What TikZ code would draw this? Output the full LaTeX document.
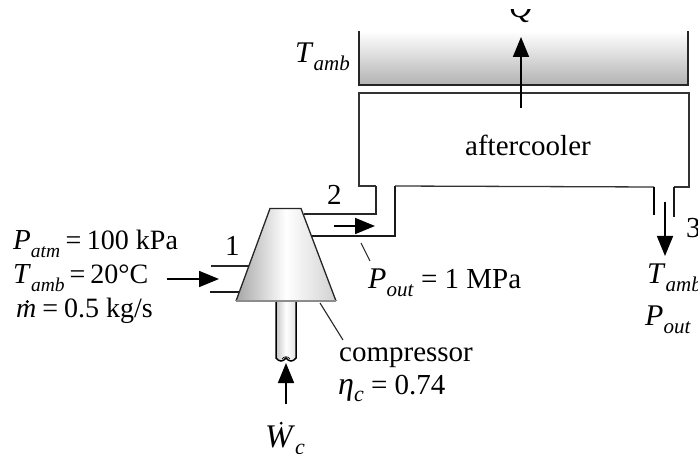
\documentclass[tikz,border=0pt]{standalone}
\usepackage{fontspec}
\setmainfont{Liberation Serif}
\usetikzlibrary{arrows.meta}
\newcommand{\vsym}[2]{{\fontsize{30}{30}\selectfont\textit{#1}}\raisebox{-8pt}{\fontsize{21}{21}\selectfont\textit{#2}}}
\newcommand{\lsym}[2]{{\fontsize{29}{29}\selectfont\textit{#1}}\raisebox{-8pt}{\fontsize{19.5}{19.5}\selectfont\textit{#2}}}
\newcommand{\dotsym}[1]{\tikz[baseline=0pt,x=1pt,y=1pt]{\node[inner sep=0pt,anchor=base west] (dd) at (0,0) {\textit{#1}};\fill (dd.north)++(1pt,2pt) circle (1.6pt);}}
\tikzset{
  txt/.style={anchor=base west,inner sep=0pt,font=\fontsize{29}{29}\selectfont},
  ltxt/.style={txt,font=\fontsize{28}{28}\selectfont},
  thinl/.style={line width=1.4pt,black!85},
  thickl/.style={line width=2.6pt,black!90},
  flow/.style={line width=1.7pt,-{Triangle[length=20pt,width=16pt]}},
  lead/.style={line width=1.1pt,black!85},
}
\begin{document}
\begin{tikzpicture}[x=1pt,y=-1pt]
\useasboundingbox (0,0) rectangle (698,454);
\begin{scope}
\clip (0,0) rectangle (698,454);
% ambient
\fill[top color=white,bottom color=black!30] (359,31) rectangle (688,85);
\draw[line width=1.5pt,black!85] (359,31) -- (359,85) -- (688,85) -- (688,31);
% aftercooler
\coordinate (c2a) at (376,186);
\coordinate (c2b) at (395,186);
\coordinate (c3a) at (654,187);
\coordinate (c3b) at (674,187);
\draw[line width=1.3pt,black!80] (c2a) -- (359,186) -- (359,93) -- (689,93) -- (689,187) -- (c3b);
\draw[line width=1.3pt,black!80] (c2b) -- (c3a);
% pipes
\coordinate (o1) at (304,214);
\coordinate (o2) at (312,236);
\draw[thinl] (o1) -- (376,214) -- (c2a);
\draw[thickl] (o2) -- (395,236) -- (c2b);
\draw[line width=1.7pt] (c3a) -- (654,215);
\draw[thickl] (c3b) -- (674,217);
% inlet
\coordinate (i1a) at (211,266);
\coordinate (i1b) at (250,266);
\coordinate (i2a) at (210,292);
\coordinate (i2b) at (240,292);
\draw[thinl] (i1a) -- (i1b);
\draw[thickl] (i2a) -- (i2b);
% shaft
\shade[left color=black!22,right color=black!12,middle color=white]
  (276,301) -- (276,358) .. controls (279,362) and (283,362) .. (286,358) .. controls (289,362) and (293,362) .. (296,358) -- (296,301) -- cycle;
\draw[line width=1.5pt] (276,301) -- (276,358) .. controls (279,362) and (283,362) .. (286,358) .. controls (289,362) and (293,362) .. (296,358) -- (296,301);
\draw[line width=0.7pt] (282,359) .. controls (284,356) and (288,356) .. (290,359);
% compressor
\path[left color=black!35,right color=black!18,middle color=white]
  (270,208.5) -- (301,208.5) -- (336,301) -- (236,301) -- cycle;
\draw[line width=1.3pt,black!85] (236,301) -- (270,208.5) -- (301,208.5) -- (336,301);
\draw[line width=1.1pt,black!45] (236,301) -- (336,301);
% arrows
\coordinate (a1s) at (167,279); \coordinate (a1e) at (219,279);
\draw[flow] (a1s) -- (a1e);
\coordinate (a2s) at (334,226); \coordinate (a2e) at (375,226);
\draw[flow] (a2s) -- (a2e);
\coordinate (a3s) at (665,202); \coordinate (a3e) at (665,256);
\draw[flow] (a3s) -- (a3e);
\coordinate (a4s) at (521,108); \coordinate (a4e) at (521,37);
\draw[flow] (a4s) -- (a4e);
\coordinate (a5s) at (286,404); \coordinate (a5e) at (286,363);
\draw[flow] (a5s) -- (a5e);
% leaders
\coordinate (l1s) at (361,243); \coordinate (l1e) at (370,261);
\draw[lead] (l1s) -- (l1e);
\coordinate (l2s) at (320,303); \coordinate (l2e) at (343,340);
\draw[lead] (l2s) -- (l2e);
% text
\begin{scope}
\clip (480,10) rectangle (560,30);
\node[txt,font=\fontsize{32}{32}\selectfont] (q) at (509,18) {\textit{Q}};
\end{scope}
\node[txt] (tamb1) at (295,63) {\vsym{T}{amb}};
\node[txt] (after) at (465,156) {aftercooler};
\node[txt] (n2) at (327,205) {2};
\node[txt] (n1) at (225,255) {1};
\node[txt] (n3) at (686,238) {3};
\node[txt] (pout) at (368,288) {\vsym{P}{out} = 1 MPa};
\node[txt] (tamb3) at (647,283) {\vsym{T}{amb}};
\node[txt] (pout3) at (645,325) {\vsym{P}{out}};
\node[ltxt] (patm) at (13,250) {\lsym{P}{atm}\hspace{5.5pt}=\hspace{5.5pt}100 kPa};
\node[ltxt] (tamb2) at (13,283) {\lsym{T}{amb}\hspace{5pt}=\hspace{5pt}20°C};
\node[ltxt] (mdot) at (16,317) {\dotsym{m}\hspace{6pt}=\hspace{6pt}0.5 kg/s};
\node[txt] (comp) at (339,361) {compressor};
\node[txt] (eta) at (338,394) {{\fontsize{32}{32}\selectfont\textit{η}}\raisebox{-7pt}{\fontsize{22}{22}\selectfont\textit{c}} = 0.74};
\node[txt,font=\fontsize{33}{33}\selectfont] (wc) at (265,447) {\dotsym{W}\raisebox{-7pt}{\fontsize{22}{22}\selectfont\textit{c}}};
\end{scope}
\end{tikzpicture}
\end{document}
